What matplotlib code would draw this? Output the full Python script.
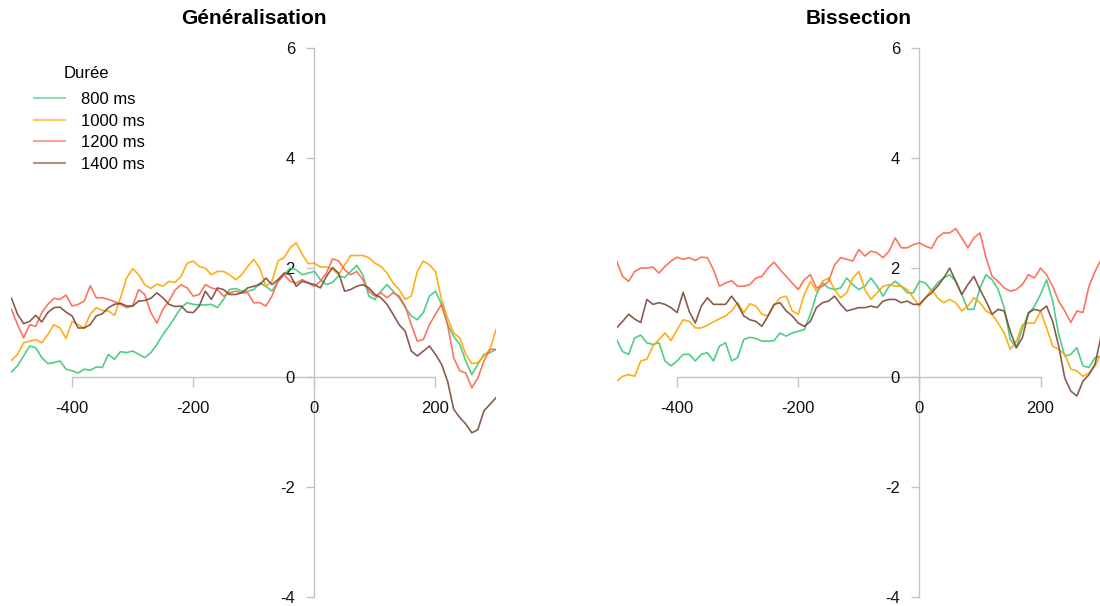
import numpy as np
import matplotlib
matplotlib.use("Agg")
import matplotlib.pyplot as plt
from matplotlib.lines import Line2D

plt.rcParams['font.family'] = ['Liberation Sans', 'DejaVu Sans']
plt.rcParams['axes.unicode_minus'] = False

# temps (ms), un point toutes les 10 ms
temps = np.arange(-500, 301, 10)

durees = ["800 ms", "1000 ms", "1200 ms", "1400 ms"]
couleurs = ["#3cc97a", "#ffa500", "#ff6450", "#7d4a3a"]

# Généralisation
gen_800 = [0.10, 0.21, 0.39, 0.57, 0.54, 0.36, 0.25, 0.27, 0.30, 0.15,
           0.12, 0.08, 0.15, 0.13, 0.19, 0.18, 0.42, 0.33, 0.47, 0.45,
           0.48, 0.42, 0.36, 0.45, 0.60, 0.78, 0.93, 1.10, 1.27, 1.36,
           1.33, 1.32, 1.32, 1.33, 1.27, 1.42, 1.60, 1.62, 1.57, 1.57,
           1.60, 1.72, 1.66, 1.57, 1.75, 1.87, 1.99, 1.96, 1.87, 1.90,
           1.93, 1.78, 1.69, 1.73, 1.85, 1.82, 1.93, 2.04, 1.87, 1.48,
           1.42, 1.57, 1.69, 1.57, 1.45, 1.27, 1.12, 1.05, 1.18, 1.48,
           1.57, 1.33, 0.96, 0.75, 0.60, 0.30, 0.05, 0.24, 0.42, 0.45,
           0.51]
gen_1000 = [0.31, 0.42, 0.63, 0.66, 0.69, 0.63, 0.78, 0.96, 0.90, 0.71,
            1.02, 0.96, 0.90, 1.15, 1.27, 1.22, 1.21, 1.13, 1.45, 1.81,
            1.98, 1.87, 1.69, 1.62, 1.70, 1.66, 1.75, 1.73, 1.84, 2.08,
            2.12, 2.02, 1.99, 1.87, 1.93, 1.93, 1.87, 1.78, 1.87, 2.02,
            2.15, 1.99, 1.66, 1.75, 2.12, 2.18, 2.36, 2.45, 2.24, 2.07,
            2.08, 2.01, 2.01, 1.97, 1.87, 2.05, 2.22, 2.22, 2.22, 2.18,
            2.08, 2.02, 1.90, 1.72, 1.60, 1.42, 1.48, 1.93, 2.12, 2.05,
            1.93, 1.42, 1.08, 0.81, 0.72, 0.42, 0.25, 0.27, 0.39, 0.51,
            0.87]
gen_1200 = [1.24, 0.96, 0.72, 0.96, 0.93, 1.18, 1.33, 1.44, 1.42, 1.50,
            1.30, 1.33, 1.39, 1.67, 1.45, 1.45, 1.42, 1.38, 1.33, 1.27,
            1.30, 1.60, 1.51, 1.18, 0.99, 1.24, 1.39, 1.59, 1.69, 1.63,
            1.48, 1.51, 1.69, 1.63, 1.60, 1.48, 1.54, 1.57, 1.54, 1.54,
            1.36, 1.36, 1.30, 1.48, 1.75, 1.87, 1.75, 1.72, 1.78, 1.72,
            1.66, 1.75, 1.90, 2.16, 2.12, 1.96, 1.87, 1.93, 1.78, 1.57,
            1.48, 1.54, 1.45, 1.54, 1.48, 1.30, 0.96, 0.66, 0.69, 0.96,
            1.15, 1.33, 0.96, 0.36, 0.12, 0.08, -0.19, -0.01, 0.30, 0.51,
            0.51]
gen_1400 = [1.44, 1.15, 0.98, 1.02, 1.13, 1.01, 1.18, 1.27, 1.28, 1.19,
            1.12, 0.90, 0.90, 0.96, 1.12, 1.16, 1.27, 1.33, 1.35, 1.30,
            1.30, 1.39, 1.40, 1.44, 1.54, 1.45, 1.33, 1.29, 1.30, 1.19,
            1.18, 1.30, 1.57, 1.42, 1.63, 1.60, 1.51, 1.51, 1.54, 1.63,
            1.66, 1.69, 1.81, 1.69, 1.78, 1.90, 1.87, 1.66, 1.75, 1.72,
            1.69, 1.63, 1.84, 2.00, 1.90, 1.57, 1.60, 1.66, 1.69, 1.63,
            1.51, 1.45, 1.33, 1.15, 0.96, 0.84, 0.48, 0.39, 0.48, 0.57,
            0.42, 0.24, -0.07, -0.58, -0.73, -0.85, -1.01, -0.95, -0.61, -0.49,
            -0.37]

# Bissection
bis_800 = [0.69, 0.47, 0.42, 0.72, 0.77, 0.63, 0.60, 0.63, 0.30, 0.21,
           0.30, 0.42, 0.42, 0.30, 0.42, 0.45, 0.30, 0.57, 0.63, 0.30,
           0.36, 0.69, 0.73, 0.71, 0.66, 0.66, 0.67, 0.81, 0.75, 0.81,
           0.84, 0.87, 1.15, 1.51, 1.72, 1.63, 1.60, 1.63, 1.81, 1.69,
           1.60, 1.66, 1.81, 1.66, 1.48, 1.66, 1.75, 1.66, 1.54, 1.54,
           1.75, 1.72, 1.58, 1.72, 1.81, 1.87, 1.75, 1.51, 1.24, 1.24,
           1.63, 1.87, 1.78, 1.60, 1.27, 0.69, 0.54, 0.90, 1.15, 1.30,
           1.51, 1.78, 1.39, 0.78, 0.39, 0.42, 0.54, 0.21, 0.18, 0.36,
           0.39]
bis_1000 = [-0.07, 0.02, 0.05, 0.02, 0.30, 0.33, 0.57, 0.69, 0.81, 0.67,
            0.87, 1.05, 1.02, 0.90, 0.90, 0.95, 1.01, 1.07, 1.12, 1.21,
            1.36, 1.18, 1.34, 1.30, 1.15, 1.12, 1.31, 1.45, 1.48, 1.21,
            1.15, 1.51, 1.75, 1.57, 1.75, 1.81, 1.60, 1.45, 1.54, 1.81,
            1.93, 1.60, 1.42, 1.54, 1.66, 1.69, 1.66, 1.66, 1.60, 1.45,
            1.30, 1.45, 1.60, 1.45, 1.36, 1.42, 1.36, 1.21, 1.30, 1.45,
            1.36, 1.21, 1.15, 0.99, 0.81, 0.51, 0.66, 0.96, 0.99, 0.99,
            1.21, 0.90, 0.57, 0.51, 0.42, 0.15, 0.12, 0.02, 0.08, 0.21,
            0.42]
bis_1200 = [2.12, 1.84, 1.75, 1.93, 1.99, 1.99, 2.01, 1.90, 2.02, 2.12,
            2.19, 2.15, 2.18, 2.13, 2.19, 2.18, 1.96, 1.66, 1.72, 1.76,
            1.66, 1.66, 1.69, 1.81, 1.84, 1.99, 2.10, 1.96, 1.84, 1.72,
            1.60, 1.78, 1.87, 1.63, 1.66, 1.75, 2.05, 2.18, 2.15, 2.12,
            2.33, 2.21, 2.30, 2.27, 2.18, 2.30, 2.54, 2.36, 2.36, 2.42,
            2.45, 2.39, 2.35, 2.55, 2.63, 2.63, 2.71, 2.54, 2.36, 2.54,
            2.63, 2.18, 1.84, 1.75, 1.63, 1.57, 1.60, 1.69, 1.87, 1.81,
            1.99, 1.87, 1.66, 1.39, 1.21, 1.00, 1.21, 1.18, 1.66, 1.93,
            2.15]
bis_1400 = [0.90, 1.02, 1.15, 1.06, 1.00, 1.42, 1.33, 1.36, 1.33, 1.27,
            1.18, 1.55, 1.20, 0.99, 1.30, 1.45, 1.33, 1.33, 1.33, 1.48,
            1.33, 1.12, 1.05, 1.02, 0.93, 1.12, 1.33, 1.36, 1.21, 1.12,
            0.99, 0.93, 1.02, 1.27, 1.36, 1.39, 1.48, 1.33, 1.21, 1.24,
            1.27, 1.27, 1.30, 1.27, 1.39, 1.42, 1.42, 1.36, 1.39, 1.33,
            1.33, 1.45, 1.54, 1.66, 1.81, 1.99, 1.75, 1.51, 1.69, 1.84,
            1.60, 1.39, 1.15, 1.24, 1.21, 0.84, 0.54, 0.72, 1.18, 1.24,
            1.21, 1.30, 1.02, 0.57, -0.01, -0.25, -0.34, -0.07, 0.05, 0.24,
            0.75]

gris = "#c4c4c4"

fig = plt.figure(figsize=(11, 6.06), dpi=100)
ax1 = fig.add_axes([0.01045, 0.01485, 0.4405, 0.906])
ax2 = fig.add_axes([0.5605, 0.01485, 0.4405, 0.906])


def habiller(ax):
    ax.set_xlim(-500, 300)
    ax.set_ylim(-4, 6)
    ax.patch.set_alpha(0)
    ax.spines['top'].set_visible(False)
    ax.spines['right'].set_visible(False)
    ax.spines['left'].set_position(('data', 0))
    ax.spines['bottom'].set_position(('data', 0))
    ax.spines['bottom'].set_bounds(-400, 200)
    ax.spines['left'].set_bounds(-4, 6)
    for s in ['left', 'bottom']:
        ax.spines[s].set_color(gris)
        ax.spines[s].set_linewidth(1.0)
        ax.spines[s].set_zorder(0)
    ax.set_xticks([-400, -200, 0, 200])
    ax.set_yticks([-4, -2, 0, 2, 4, 6])
    ax.tick_params(axis='x', length=7, width=1.0, color=gris, pad=10,
                   labelsize=12, labelcolor="#111111")
    ax.tick_params(axis='y', length=6, width=1.0, color=gris, pad=8,
                   labelsize=12, labelcolor="#111111")


for ax, series in [(ax1, [gen_800, gen_1000, gen_1200, gen_1400]),
                   (ax2, [bis_800, bis_1000, bis_1200, bis_1400])]:
    habiller(ax)
    for y, c in zip(series, couleurs):
        ax.plot(temps, y, color=c, lw=1.2, alpha=0.9, zorder=3,
                solid_joinstyle='round')

fig.text(0.2307, 0.970, "Généralisation", ha='center', va='center',
         fontsize=15, fontweight='bold')
fig.text(0.7805, 0.970, "Bissection", ha='center', va='center',
         fontsize=15, fontweight='bold')

# légende : titre à part pour garder l'écart du modèle
fig.text(86 / 1100, 1 - 74 / 606, "Durée", ha='center', va='center',
         fontsize=12)
poignees = [Line2D([0], [0], color=c, lw=1.5, alpha=0.6) for c in couleurs]
leg = ax1.legend(poignees, durees, loc='upper left',
                 bbox_to_anchor=(34 / 1100, 1 - 92 / 606),
                 bbox_transform=fig.transFigure, frameon=False,
                 fontsize=12, handlelength=1.85,
                 handletextpad=0.95, labelspacing=0.4, borderpad=0,
                 borderaxespad=0)

fig.savefig("out.png", dpi=100)
